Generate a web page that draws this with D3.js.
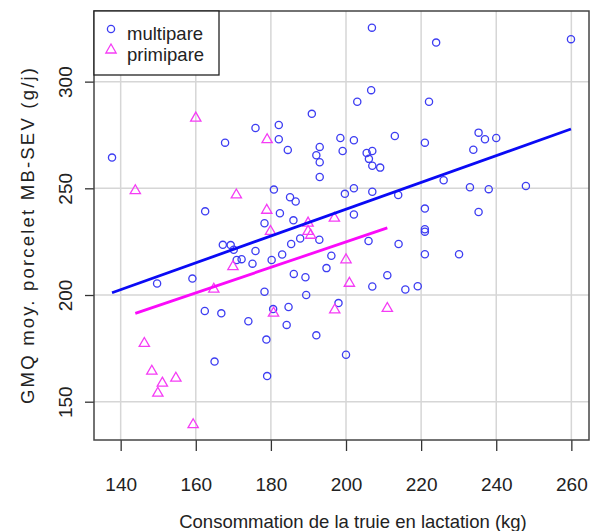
<!DOCTYPE html>
<html>
<head>
<meta charset="utf-8">
<script src="https://cdn.jsdelivr.net/npm/d3@7"></script>
<style>
  body { margin: 0; background: #fff; }
  text { font-family: "Liberation Sans", Arial, sans-serif; fill: #222; }
</style>
</head>
<body>
<div id="scatter"></div>
<script>
// Data
var multiX = [137.7, 167.8, 175.9, 182.1, 182.1, 184.5, 190.9, 193.0, 192.1, 193.0,
  193.0, 198.5, 180.8, 185.1, 186.6, 162.5, 182.4, 186.0, 178.3, 206.9,
  224.0, 259.9, 206.7, 203.0, 222.1, 202.1, 213.0, 221.0, 235.3, 237.0,
  240.0, 233.9, 199.1, 205.5, 207.0, 206.1, 207.0, 209.1, 226.0, 199.7,
  202.1, 207.0, 213.9, 233.0, 238.0, 247.9, 221.0, 235.3, 202.1, 221.0,
  221.0, 167.2, 169.3, 170.1, 170.9, 172.2, 175.9, 175.1, 180.2, 183.0,
  185.4, 187.8, 192.9, 149.7, 159.1, 178.3, 186.1, 189.2, 189.4, 194.8,
  196.1, 162.4, 166.8, 174.0, 180.6, 184.7, 184.2, 192.1, 178.8, 165.0,
  179.0, 198.0, 206.0, 214.0, 221.0, 230.1, 211.0, 207.0, 215.8, 219.1,
  200.0];
var multiY = [264.4, 271.4, 278.3, 279.7, 273.0, 268.0, 284.9, 269.4, 265.5, 262.2,
  255.3, 273.6, 249.4, 245.8, 243.8, 239.2, 238.3, 235.0, 233.6, 325.3,
  318.3, 319.9, 296.0, 290.6, 290.6, 272.5, 274.5, 271.4, 276.1, 273.0,
  273.6, 268.1, 267.5, 266.6, 267.5, 263.8, 260.6, 259.7, 253.8, 247.4,
  250.0, 248.4, 246.9, 250.5, 249.6, 251.1, 240.5, 238.9, 237.7, 230.8,
  229.7, 223.5, 223.4, 221.2, 216.4, 216.8, 220.6, 214.7, 216.4, 219.0,
  223.9, 226.5, 225.9, 205.4, 207.7, 201.5, 209.9, 208.3, 200.0, 212.6,
  218.4, 192.5, 191.4, 187.7, 193.4, 194.4, 186.0, 181.1, 179.1, 168.8,
  162.0, 196.2, 225.3, 223.9, 219.1, 219.1, 209.3, 204.0, 202.6, 204.1,
  172.0];
var primiX = [160.0, 179.0, 143.9, 170.8, 178.9, 189.9, 196.9, 179.9, 189.9, 190.6,
  169.9, 164.8, 180.7, 197.0, 200.0, 200.9, 211.0, 146.3, 148.3, 151.1,
  149.9, 154.7, 159.3];
var primiY = [282.9, 272.8, 248.9, 246.9, 239.7, 233.7, 236.0, 229.8, 229.8, 228.0,
  213.3, 202.7, 191.5, 193.0, 216.5, 205.5, 193.7, 177.3, 164.3, 158.7,
  154.0, 161.0, 139.2];

// intercept, slope of the fitted lines
var multiFit = [114.6, 0.628];
var primiFit = [105.5, 0.597];

var xTicks = [140, 160, 180, 200, 220, 240, 260];
var yTicks = [150, 200, 250, 300];
var xLim = [132.9, 264.7];
var yLim = [132.05, 333.1];
var groups = ["multipare", "primipare"];

var svgWidth = 590;
var svgHeight = 531;

var box = { left: 94, right: 589, top: 11, bottom: 440 };

var blue = "#3d3df2";
var magenta = "#f53cf5";

var svg = d3.select("#scatter")
  .append("svg")
  .attr("width", svgWidth)
  .attr("height", svgHeight);

// Scales
var xScale = d3.scaleLinear().domain(xLim).range([box.left, box.right]);
var yScale = d3.scaleLinear().domain(yLim).range([box.bottom, box.top]);

// Grid
svg.append("g").selectAll("line")
  .data(xTicks)
  .join("line")
  .attr("x1", d => xScale(d)).attr("x2", d => xScale(d))
  .attr("y1", box.top).attr("y2", box.bottom)
  .attr("stroke", "#d6d6d6").attr("stroke-width", 1.5);

svg.append("g").selectAll("line")
  .data(yTicks)
  .join("line")
  .attr("x1", box.left).attr("x2", box.right)
  .attr("y1", d => yScale(d)).attr("y2", d => yScale(d))
  .attr("stroke", "#d6d6d6").attr("stroke-width", 1.5);

// Axes
var bottomAxis = d3.axisBottom(xScale).tickValues(xTicks).tickSize(11).tickPadding(27);
var leftAxis = d3.axisLeft(yScale).tickValues(yTicks).tickSize(9);

var gx = svg.append("g")
  .attr("transform", `translate(0, ${box.bottom})`)
  .call(bottomAxis);
gx.select(".domain").remove();
gx.selectAll("line").attr("stroke", "#333").attr("stroke-width", 1.3);
gx.selectAll("text").attr("font-size", 19).attr("fill", "#222")
  .attr("font-family", "Liberation Sans, Arial, sans-serif");

var gy = svg.append("g")
  .attr("transform", `translate(${box.left}, 0)`)
  .call(leftAxis);
gy.select(".domain").remove();
gy.selectAll("line").attr("stroke", "#333").attr("stroke-width", 1.3);
gy.selectAll("text")
  .attr("font-size", 19).attr("fill", "#222")
  .attr("font-family", "Liberation Sans, Arial, sans-serif")
  .attr("text-anchor", "middle")
  .attr("x", 0).attr("dy", "0.36em")
  .attr("transform", "translate(-29, 0) rotate(-90)");

// Points
svg.append("g").selectAll("circle")
  .data(d3.range(multiX.length))
  .join("circle")
  .attr("cx", i => xScale(multiX[i]))
  .attr("cy", i => yScale(multiY[i]))
  .attr("r", 3.6)
  .attr("fill", "none")
  .attr("stroke", blue)
  .attr("stroke-width", 1.3);

var tri = d3.symbol().type(d3.symbolTriangle).size(46);

svg.append("g").selectAll("path")
  .data(d3.range(primiX.length))
  .join("path")
  .attr("d", tri)
  .attr("transform", i => `translate(${xScale(primiX[i])}, ${yScale(primiY[i])})`)
  .attr("fill", "none")
  .attr("stroke", magenta)
  .attr("stroke-width", 1.3);

// Fitted lines
function fitLine(xs, fit, color) {
  var ext = d3.extent(xs);
  svg.append("line")
    .attr("x1", xScale(ext[0])).attr("y1", yScale(fit[0] + fit[1] * ext[0]))
    .attr("x2", xScale(ext[1])).attr("y2", yScale(fit[0] + fit[1] * ext[1]))
    .attr("stroke", color)
    .attr("stroke-width", 2.8);
}
fitLine(multiX, multiFit, "#0a0af5");
fitLine(primiX, primiFit, "#fa0afa");

// Frame
svg.append("rect")
  .attr("x", box.left).attr("y", box.top)
  .attr("width", box.right - box.left).attr("height", box.bottom - box.top)
  .attr("fill", "none").attr("stroke", "#444").attr("stroke-width", 1.5);

// Legend
var legend = svg.append("g");
legend.append("rect")
  .attr("x", box.left).attr("y", box.top)
  .attr("width", 125).attr("height", 64)
  .attr("fill", "#fff").attr("stroke", "#222").attr("stroke-width", 1.3);

legend.append("circle")
  .attr("cx", 111).attr("cy", 29)
  .attr("r", 3.6).attr("fill", "none")
  .attr("stroke", blue).attr("stroke-width", 1.3);
legend.append("path")
  .attr("d", tri)
  .attr("transform", "translate(111, 50)")
  .attr("fill", "none").attr("stroke", magenta).attr("stroke-width", 1.3);

legend.selectAll("text")
  .data(groups)
  .join("text")
  .attr("x", 127)
  .attr("y", (d, i) => 39.5 + i * 21.5)
  .attr("font-size", 18.5)
  .text(d => d);

// Axis titles
svg.append("text")
  .attr("x", 353)
  .attr("y", 527.5)
  .attr("text-anchor", "middle")
  .attr("font-size", 18.5)
  .text("Consommation de la truie en lactation (kg)");

svg.append("text")
  .attr("transform", "translate(27, 236) rotate(-90)")
  .attr("text-anchor", "middle")
  .attr("dy", "0.36em")
  .attr("font-size", 18.5)
  .attr("textLength", 336)
  .attr("lengthAdjust", "spacing")
  .text("GMQ moy. porcelet MB-SEV (g/j)");
</script>
</body>
</html>
